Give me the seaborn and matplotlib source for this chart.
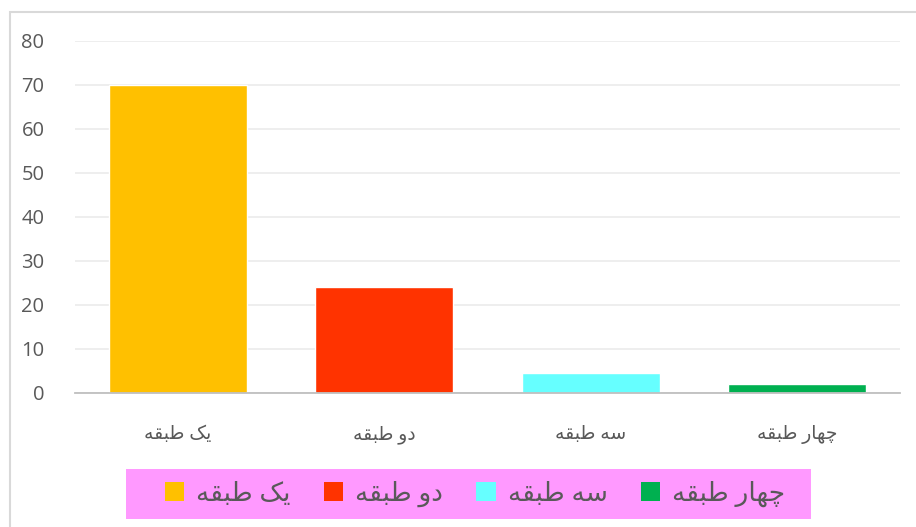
import matplotlib
matplotlib.use("Agg")
import matplotlib.pyplot as plt
import seaborn as sns
import pandas as pd
from matplotlib.patches import Rectangle

# ---- data ----
categories = ["یک طبقه", "دو طبقه", "سه طبقه", "چهار طبقه"]
values = [70, 24, 4.5, 2]
bar_colors = ["#FFC000", "#FF3300", "#66FFFF", "#00B050"]
y_ticks = [0, 10, 20, 30, 40, 50, 60, 70, 80]

# ---- minimal Arabic-script shaping (presentation forms, visual order) ----
# letter: (isolated, final, initial, medial)
FORMS = {
    "ا": (0xFE8D, 0xFE8E, None, None),
    "ب": (0xFE8F, 0xFE90, 0xFE91, 0xFE92),
    "د": (0xFEA9, 0xFEAA, None, None),
    "ر": (0xFEAD, 0xFEAE, None, None),
    "س": (0xFEB1, 0xFEB2, 0xFEB3, 0xFEB4),
    "ط": (0xFEC1, 0xFEC2, 0xFEC3, 0xFEC4),
    "ق": (0xFED5, 0xFED6, 0xFED7, 0xFED8),
    "ه": (0xFEE9, 0xFEEA, 0xFEEB, 0xFEEC),
    "و": (0xFEED, 0xFEEE, None, None),
    "چ": (0xFB7A, 0xFB7B, 0xFB7C, 0xFB7D),
    "ک": (0xFB8E, 0xFB8F, 0xFB90, 0xFB91),
    "ی": (0xFBFC, 0xFBFD, 0xFBFE, 0xFBFF),
}


def shape(text):
    chars = list(text)
    out = []
    for i, c in enumerate(chars):
        if c not in FORMS:
            out.append(c)
            continue
        iso, fin, ini, med = FORMS[c]
        prev = chars[i - 1] if i > 0 else None
        nxt = chars[i + 1] if i < len(chars) - 1 else None
        jp = prev in FORMS and FORMS[prev][2] is not None
        jn = nxt in FORMS and ini is not None
        if jp and jn:
            g = med
        elif jp:
            g = fin
        elif jn:
            g = ini
        else:
            g = iso
        out.append(chr(g))
    return "".join(reversed(out))


sns.set_theme(style="white")
plt.rcParams["font.family"] = ["Open Sans", "DejaVu Sans"]

W, H = 916, 527
fig = plt.figure(figsize=(W / 100, H / 100), dpi=100)
ax = fig.add_axes([75 / W, (H - 393) / H, (900 - 75) / W, (393 - 41) / H])

df = pd.DataFrame({"cat": [shape(c) for c in categories], "val": values})
sns.barplot(data=df, x="cat", y="val", hue="cat", palette=bar_colors,
            width=0.67, legend=False, ax=ax, saturation=1)

ax.set_ylim(0, 80)
ax.set_xlim(-0.5, len(categories) - 0.5)
ax.set_yticks(y_ticks)
ax.yaxis.grid(True, color="#EDEDED", linewidth=1.3)
ax.set_axisbelow(True)
ax.set_xlabel("")
ax.set_ylabel("")
for s in ["top", "right", "left"]:
    ax.spines[s].set_visible(False)
ax.spines["bottom"].set_color("#BFBFBF")
ax.spines["bottom"].set_linewidth(1.3)
ax.tick_params(axis="y", length=0, pad=22, labelsize=14.5, labelcolor="#595959")
ax.tick_params(axis="x", length=0, pad=23, labelsize=13.5, labelcolor="#595959")

# outer chart frame
fig.patches.append(Rectangle((10 / W, -0.02), 1.0, (H - 12) / H + 0.02,
                             transform=fig.transFigure, fill=False,
                             edgecolor="#D9D9D9", linewidth=1.5))

# legend background
fig.patches.append(Rectangle((126 / W, (H - 519) / H), (811 - 126) / W, 50 / H,
                             transform=fig.transFigure, facecolor="#FF99FF",
                             edgecolor="none", zorder=0))
handles = [Rectangle((0, 0), 1, 1, facecolor=c, edgecolor="none") for c in bar_colors]
leg = fig.legend(handles, [shape(c) for c in categories], ncol=4, frameon=False,
                 loc="center", bbox_to_anchor=((166 + 784) / 2 / W, (H - 494) / H),
                 fontsize=19, handlelength=0.75, handleheight=0.75, handletextpad=0.45,
                 columnspacing=1.25, labelcolor="#595959")

fig.savefig("out.png", dpi=100)
